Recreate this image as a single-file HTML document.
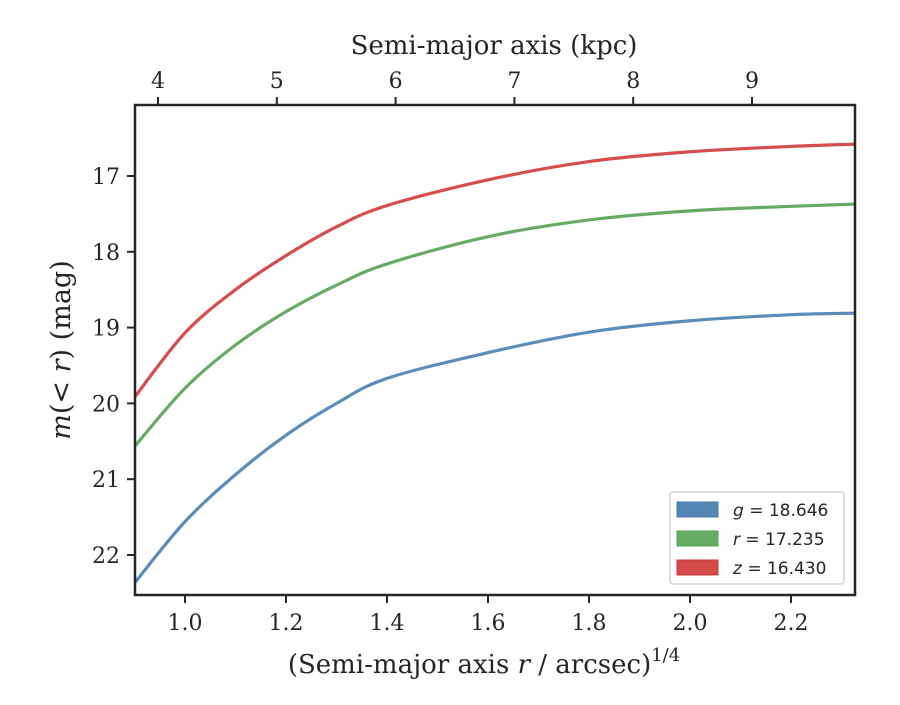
<!DOCTYPE html>
<html><head><meta charset="utf-8"><style>
body{margin:0;background:#fff}
svg text{font-family:"DejaVu Serif","Liberation Serif",serif;fill:#262626}
</style></head><body>
<svg id="chart" width="900" height="700" viewBox="0 0 900 700">
<rect width="900" height="700" fill="#fff"/>
<g id="series"></g>
<g id="axes"></g>
<rect x="135" y="105" width="720" height="490" fill="none" stroke="#262626" stroke-width="2.5"/>
<text x="494" y="54" text-anchor="middle" font-size="26">Semi-major axis (kpc)</text>
<text x="484" y="673" text-anchor="middle" font-size="26">(Semi-major axis <tspan font-style="italic">r</tspan> / arcsec)<tspan font-size="18" dy="-12">1/4</tspan></text>
<text transform="translate(70,350) rotate(-90)" text-anchor="middle" font-size="27"><tspan font-style="italic">m</tspan>(&lt; <tspan font-style="italic">r</tspan>) (mag)</text>
<g>
<rect x="670" y="492" width="174" height="92" rx="3" fill="#fff" stroke="#ccc" stroke-width="1.3"/>
<rect x="677" y="502" width="41" height="15" fill="#5586b3" stroke="#4a7aa8"/>
<rect x="677" y="531" width="41" height="15" fill="#66ad66" stroke="#58a058"/>
<rect x="677" y="560" width="41" height="15" fill="#d44a4a" stroke="#c83a3a"/>
<text x="733" y="516" font-size="17" style="font-family:'DejaVu Sans',sans-serif"><tspan font-style="italic">g</tspan> = 18.646</text>
<text x="733" y="545" font-size="17" style="font-family:'DejaVu Sans',sans-serif"><tspan font-style="italic">r</tspan> = 17.235</text>
<text x="733" y="574" font-size="17" style="font-family:'DejaVu Sans',sans-serif"><tspan font-style="italic">z</tspan> = 16.430</text>
</g>
</svg>
<script>
const xVals=[0.9,1.0,1.1,1.2,1.3,1.4,1.6,1.8,2.0,2.2,2.327];
const gVals=[22.37,21.56,20.94,20.42,20.00,19.67,19.33,19.06,18.91,18.83,18.81];
const rVals=[20.57,19.80,19.23,18.79,18.44,18.16,17.80,17.58,17.46,17.40,17.37];
const zVals=[19.92,19.07,18.50,18.05,17.67,17.39,17.05,16.81,16.68,16.61,16.58];
const xTicks=[1.0,1.2,1.4,1.6,1.8,2.0,2.2];
const xTickLabels=["1.0","1.2","1.4","1.6","1.8","2.0","2.2"];
const yTicks=[17,18,19,20,21,22];
const kpcTicks=[4,5,6,7,8,9];
const NS="http://www.w3.org/2000/svg";
const X=v=>185+(v-1.0)*505;
const Y=v=>176+(v-17)*75.8;
const K=v=>158+(v-4)*118.8;
const ser=document.getElementById('series'), ax=document.getElementById('axes');
function mk(t,a,p){const e=document.createElementNS(NS,t);for(const k in a)e.setAttribute(k,a[k]);p.appendChild(e);return e;}
function smooth(xs,ys){let d="";for(let i=0;i<xs.length;i++){const px=X(xs[i]),py=Y(ys[i]);if(i==0){d+="M"+px+","+py;continue;}
 const p0=[X(xs[Math.max(i-2,0)]),Y(ys[Math.max(i-2,0)])],p1=[X(xs[i-1]),Y(ys[i-1])],p2=[px,py],p3=[X(xs[Math.min(i+1,xs.length-1)]),Y(ys[Math.min(i+1,xs.length-1)])];
 const c1=[p1[0]+(p2[0]-p0[0])/6,p1[1]+(p2[1]-p0[1])/6],c2=[p2[0]-(p3[0]-p1[0])/6,p2[1]-(p3[1]-p1[1])/6];
 d+=" C"+c1+" "+c2+" "+p2;}return d;}
const series=[["g",gVals,"#4a7fb0"],["r",rVals,"#55a155"],["z",zVals,"#d23a3a"]];
for(const s of series){
 const p=mk('path',{d:smooth(xVals,s[1]),fill:'none',stroke:s[2],'stroke-width':3.2,'stroke-opacity':0.9},ser);
 
 
}
xTicks.forEach((v,i)=>{const x=X(v);
 const l=mk('line',{x1:x,x2:x,y1:595,y2:603,stroke:'#262626','stroke-width':2},ax);
 
 
 const t=mk('text',{x:x,y:630,'text-anchor':'middle','font-size':22},ax);t.textContent=xTickLabels[i];
 
 });
yTicks.forEach(v=>{const y=Y(v);
 const l=mk('line',{x1:127,x2:135,y1:y,y2:y,stroke:'#262626','stroke-width':2},ax);
 
 
 const t=mk('text',{x:120,y:y+8,'text-anchor':'end','font-size':22},ax);t.textContent=v;
 
 });
kpcTicks.forEach(v=>{const x=K(v);
 const l=mk('line',{x1:x,x2:x,y1:97,y2:105,stroke:'#262626','stroke-width':2},ax);
 
 
 const t=mk('text',{x:x,y:88,'text-anchor':'middle','font-size':22},ax);t.textContent=v;
 
 });
</script>
</body></html>
